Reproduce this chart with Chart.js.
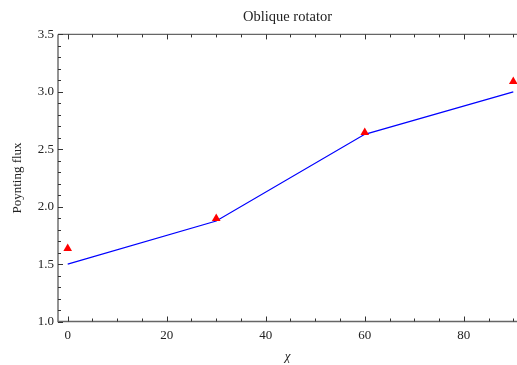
<!DOCTYPE html>
<html>
<head>
<meta charset="utf-8">
<title>Oblique rotator</title>
<script src="https://cdn.jsdelivr.net/npm/chart.js@4.4.1/dist/chart.umd.min.js"></script>
<style>
  html, body { margin: 0; padding: 0; background: #fff; }
  #chart { display: block; }
</style>
</head>
<body>
<canvas id="chart" width="517" height="365"></canvas>
<script>
  'use strict';

  // Inclination angle chi (degrees).
  const chiValues = [0, 30, 60, 90];
  // Blue curve.
  const modelFlux = [1.5, 1.875, 2.63, 3.0];
  // Red triangles.
  const measuredFlux = [1.636, 1.897, 2.646, 3.09];

  const xTicks = [0, 20, 40, 60, 80];
  const yTicks = [1.0, 1.5, 2.0, 2.5, 3.0, 3.5];
  const xMinorStep = 5;
  const yMinorStep = 0.1;

  const serif = "'Liberation Serif', 'DejaVu Serif', serif";
  const textColor = '#222';
  const axisColor = '#666';

  function toPoints(ys) {
    return chiValues.map((x, i) => ({x: x, y: ys[i]}));
  }

  // Mathematica-like frame: axes on left/bottom/top with inward ticks.
  const framePlugin = {
    id: 'frame',
    afterLayout(chart) {
      // Centre the title over the plot area, not the whole canvas.
      if (chart.titleBlock) {
        chart.titleBlock.left = chart.chartArea.left;
        chart.titleBlock.right = chart.chartArea.right;
      }
    },
    beforeDatasetsDraw(chart) {
      const ctx = chart.ctx;
      const area = chart.chartArea;
      const xs = chart.scales.x;
      const ys = chart.scales.y;

      ctx.save();
      ctx.strokeStyle = axisColor;
      ctx.lineWidth = 1.4;
      ctx.beginPath();
      ctx.moveTo(area.left, area.top);
      ctx.lineTo(area.right, area.top);
      ctx.moveTo(area.left, area.top);
      ctx.lineTo(area.left, area.bottom);
      ctx.lineTo(area.right, area.bottom);
      ctx.stroke();

      ctx.strokeStyle = '#333';
      ctx.lineWidth = 1;
      ctx.beginPath();
      for (let v = 0; v <= xs.max + 0.001; v += xMinorStep) {
        const px = Math.round(xs.getPixelForValue(v)) + 0.5;
        const len = (v % 20 === 0) ? 5 : 3;
        ctx.moveTo(px, area.bottom);
        ctx.lineTo(px, area.bottom - len);
        ctx.moveTo(px, area.top);
        ctx.lineTo(px, area.top + len);
      }
      for (let i = 0; i <= 25; i++) {
        const v = 1.0 + i * yMinorStep;
        const py = Math.round(ys.getPixelForValue(v)) + 0.5;
        const len = (i % 5 === 0) ? 5 : 3;
        ctx.moveTo(area.left, py);
        ctx.lineTo(area.left + len, py);
      }
      ctx.stroke();
      ctx.restore();
    },
  };

  const config = {
    type: 'scatter',
    data: {
      datasets: [
        {
          label: 'Measured',
          data: toPoints(measuredFlux),
          pointStyle: 'triangle',
          pointRadius: 5,
          pointHoverRadius: 5,
          backgroundColor: '#ff0000',
          borderColor: '#ff0000',
          borderWidth: 0,
          showLine: false,
          clip: false,
          order: 0,
        },
        {
          label: 'Model',
          data: toPoints(modelFlux),
          showLine: true,
          borderColor: '#0000ff',
          borderWidth: 1.2,
          pointRadius: 0,
          pointHoverRadius: 0,
          tension: 0,
          fill: false,
          order: 1,
        },
      ],
    },
    options: {
      responsive: false,
      devicePixelRatio: 1,
      animation: false,
      layout: { padding: 0, autoPadding: false },
      plugins: {
        legend: { display: false },
        tooltip: { enabled: false },
        title: {
          display: true,
          text: 'Oblique rotator',
          color: textColor,
          font: { family: serif, size: 14.5, weight: 'normal' },
          padding: { top: 8, bottom: 9 },
        },
      },
      scales: {
        x: {
          type: 'linear',
          min: -1.96,
          max: 90.75,
          grid: { display: false, drawTicks: false },
          border: { display: false },
          afterBuildTicks: (scale) => {
            scale.ticks = xTicks.map((v) => ({value: v}));
          },
          afterFit: (scale) => {
            scale.height = 43.5;
            scale.paddingLeft = 0;
            scale.paddingRight = 0;
          },
          ticks: {
            autoSkip: false,
            maxRotation: 0,
            padding: 6,
            color: textColor,
            font: { family: serif, size: 13 },
            callback: (v) => String(v),
          },
          title: {
            display: true,
            text: 'χ',
            color: textColor,
            font: { family: serif, size: 13, style: 'italic' },
            padding: { top: 0, bottom: 1 },
          },
        },
        y: {
          type: 'linear',
          min: 1.0,
          max: 3.5,
          grid: { display: false, drawTicks: false },
          border: { display: false },
          afterBuildTicks: (scale) => {
            scale.ticks = yTicks.map((v) => ({value: v}));
          },
          afterFit: (scale) => {
            scale.width = 58;
            scale.paddingTop = 0;
            scale.paddingBottom = 0;
          },
          ticks: {
            autoSkip: false,
            padding: 4,
            color: textColor,
            font: { family: serif, size: 13 },
            callback: (v) => Number(v).toFixed(1),
          },
          title: {
            display: true,
            text: 'Poynting flux',
            color: textColor,
            font: { family: serif, size: 13 },
            padding: { top: 10, bottom: 0 },
          },
        },
      },
    },
    plugins: [framePlugin],
  };

  const chart = new Chart(document.getElementById('chart'), config);
</script>
</body>
</html>
